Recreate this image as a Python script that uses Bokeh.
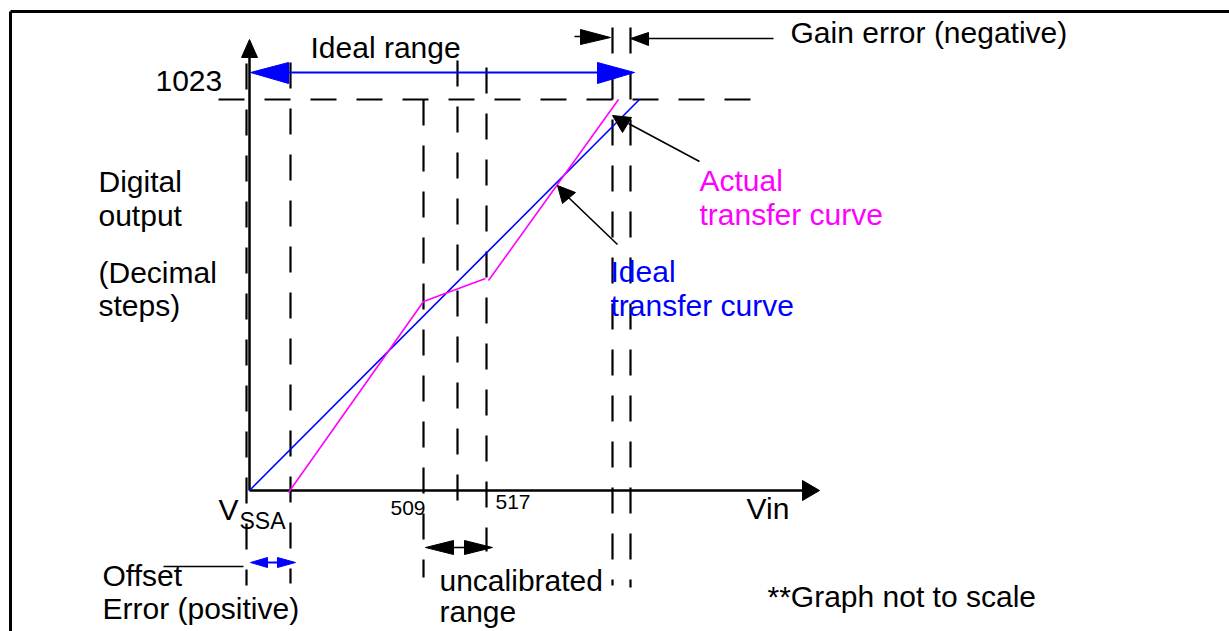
from bokeh.plotting import figure
from bokeh.models import Range1d, ColumnDataSource
from bokeh.core.properties import value
from bokeh.embed import file_html
from bokeh.resources import INLINE

# ---------------- diagram data (sketch coordinates) ----------------
# ideal transfer curve (straight line from VSSA to 1023)
ideal_x = [249, 639]
ideal_y = [490, 99]
# actual transfer curve: two pieces (gap at the uncalibrated range end)
actual_xs = [[288, 423, 485], [488, 618]]
actual_ys = [[492, 301, 278], [280, 99]]

# axes
axis_xs = [[249, 249], [249, 805]]
axis_ys = [[490, 55], [490, 490]]

# dashed guides
vguide_x = [246, 290, 423, 457, 486, 612, 630]
vguide_top = [63, 62, 99, 60, 67, 27, 27]
vguide_bot = [585, 583, 577, 507, 551, 585, 587]
hguide_x = [218, 762]
hguide_y = [99, 99]

# tick labels / labels
tick_labels = ["509", "517"]
tick_x = [390, 495]
tick_y = [514, 508]

black_text = ["Ideal range", "1023", "Gain error (negative)", "Digital", "output",
              "(Decimal", "steps)", "V", "Vin", "Offset", "Error (positive)",
              "uncalibrated", "range", "**Graph not to scale"]
black_x = [310, 155, 790, 98, 98, 98, 98, 218, 746, 102, 102, 439, 439, 767]
black_y = [57, 90, 42, 191, 225, 282, 315, 519, 518, 585, 618, 590, 621, 606]
sub_text = ["SSA"]
sub_x = [239]
sub_y = [528]
magenta_text = ["Actual", "transfer curve"]
magenta_x = [699, 699]
magenta_y = [190, 224]
blue_text = ["Ideal", "transfer curve"]
blue_x = [610, 610]
blue_y = [281, 315]

# arrow heads (triangles)
black_heads_x = [[249, 241, 257], [819, 802, 802], [610, 580, 580], [630, 648, 648],
                 [612, 631, 622], [557, 562, 575], [425, 453, 453], [492, 464, 464]]
black_heads_y = [[39, 57, 57], [490, 480, 500], [37, 29, 44], [38, 32, 45],
                 [115, 117, 132], [185, 203, 192], [547, 540, 554], [547, 540, 554]]
blue_heads_x = [[250, 288, 288], [634, 597, 597], [250, 267, 267], [295, 277, 277]]
blue_heads_y = [[72, 62, 83], [72, 62, 83], [562, 557, 567], [562, 557, 567]]

# leader / arrow shafts
black_shaft_xs = [[574, 580], [648, 773], [628, 699], [568, 617], [453, 464], [163, 243]]
black_shaft_ys = [[36, 36], [38, 38], [123, 161], [197, 244], [547, 547], [566, 566]]
blue_shaft_xs = [[288, 597], [267, 277]]
blue_shaft_ys = [[72, 72], [562, 562]]

# frame (left and top edges of the figure box)
frame_xs = [[10, 10], [10, 1229]]
frame_ys = [[631, 11], [11, 11]]

# ---------------- figure ----------------
W, H = 1229, 631
p = figure(width=W, height=H, x_range=Range1d(0, W), y_range=Range1d(H, 0),
           output_backend="svg", toolbar_location=None, min_border=0)
p.axis.visible = False
p.grid.visible = False
p.outline_line_color = None
p.background_fill_color = "white"
p.border_fill_color = "white"

FONT = value("Liberation Sans")

p.multi_line(frame_xs, frame_ys, line_color="black", line_width=3)

# dashed guides
p.multi_line([[x, x] for x in vguide_x],
             [[t, b] for t, b in zip(vguide_top, vguide_bot)],
             line_color="black", line_width=2.2, line_dash="26 20")
p.line(hguide_x, hguide_y, line_color="black", line_width=2.2, line_dash="26 20")

# axes
p.multi_line(axis_xs, axis_ys, line_color="black", line_width=2.5)

# curves
p.line(ideal_x, ideal_y, line_color="#0000FF", line_width=1.6)
p.multi_line(actual_xs, actual_ys, line_color="#FF00FF", line_width=1.6)

# arrows
p.multi_line(black_shaft_xs, black_shaft_ys, line_color="black", line_width=1.6)
p.multi_line(blue_shaft_xs, blue_shaft_ys, line_color="#0000FF", line_width=2)
p.patches(black_heads_x, black_heads_y, fill_color="black", line_color="black", line_width=1)
p.patches(blue_heads_x, blue_heads_y, fill_color="#0000FF", line_color="#0000FF", line_width=1)

# texts
def add_text(xs, ys, txt, color, size):
    src = ColumnDataSource(dict(x=xs, y=ys, t=txt))
    p.text(x="x", y="y", text="t", source=src, text_color=color, text_font=FONT,
           text_font_size=f"{size}px", text_baseline="alphabetic", text_align="left",
           y_offset=-round(size * 0.34))

add_text(black_x, black_y, black_text, "black", 30)
add_text(sub_x, sub_y, sub_text, "black", 23)
add_text(tick_x, tick_y, tick_labels, "black", 21)
add_text(magenta_x, magenta_y, magenta_text, "#FF00FF", 30)
add_text(blue_x, blue_y, blue_text, "#0000FF", 30)

open("out.html", "w").write(file_html(p, INLINE))
